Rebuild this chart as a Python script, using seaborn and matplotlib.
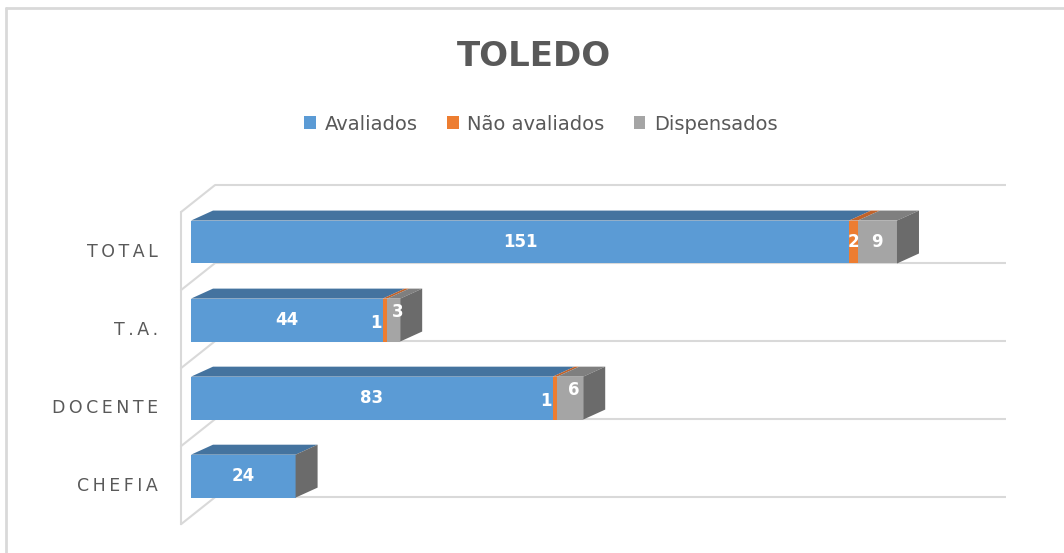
import numpy as np
import pandas as pd
import matplotlib
matplotlib.use("Agg")
import matplotlib.pyplot as plt
import seaborn as sns
from matplotlib.patches import Polygon, Patch
from matplotlib.lines import Line2D
from matplotlib.transforms import ScaledTranslation

# ---------------- data ----------------
categories = ["TOTAL", "T.A.", "DOCENTE", "CHEFIA"]
series_names = ["Avaliados", "Não avaliados", "Dispensados"]
avaliados = [151, 44, 83, 24]
nao_avaliados = [2, 1, 1, 0]
dispensados = [9, 3, 6, 0]
title_text = "TOLEDO"
x_max = 180

# ---------------- style ----------------
front_colors = ["#5B9BD5", "#ED7D31", "#A5A5A5"]
top_colors = ["#44739F", "#C0622A", "#7F7F7F"]
side_color = "#6B6B6B"
grid_color = "#D9D9D9"
text_color = "#595959"

sns.set_theme(style="white")
plt.rcParams["font.family"] = ["DejaVu Sans"]

W, H = 1064, 553
fig = plt.figure(figsize=(W / 100, H / 100), dpi=100)
ax_left_px, ax_right_px = 191, 1019
ax_top_px, ax_bot_px = 170, 530
ax = fig.add_axes([ax_left_px / W, 1 - ax_bot_px / H,
                   (ax_right_px - ax_left_px) / W, (ax_bot_px - ax_top_px) / H])

df = pd.DataFrame({"cat": categories, "a": avaliados, "n": nao_avaliados, "d": dispensados})
df["c1"] = df["a"]
df["c2"] = df["a"] + df["n"]
df["c3"] = df["a"] + df["n"] + df["d"]

bar_w = 0.55
for col, c in zip(["c3", "c2", "c1"], front_colors[::-1]):
    sns.barplot(data=df, y="cat", x=col, order=categories, color=c, saturation=1,
                width=bar_w, linewidth=0, ax=ax, zorder=3, orient="h")

xlim = (0, 190)
ylim = (3.69, -0.923)
ax.set_xlim(*xlim)
ax.set_ylim(*ylim)

px_x = (ax_right_px - ax_left_px) / (xlim[1] - xlim[0])
px_y = (ax_bot_px - ax_top_px) / (ylim[0] - ylim[1])

# bar depth
ddx = 22 / px_x
ddy = 10 / px_y

# wall / floor gridlines
wall_back_x = 24 / px_x
wall_front_x = -10 / px_x
wall_dy = 27 / px_y
back_y = np.arange(len(categories) + 1) - 0.73
grid_end = wall_back_x + x_max + 1.5
lw_g = 1.5
for yb in back_y:
    ax.plot([wall_back_x, grid_end], [yb, yb], color=grid_color, lw=lw_g, zorder=1,
            clip_on=False, solid_capstyle="butt")
    ax.plot([wall_front_x, wall_back_x], [yb + wall_dy, yb], color=grid_color, lw=lw_g,
            zorder=1, clip_on=False)
ax.plot([wall_front_x, wall_front_x], [back_y[0] + wall_dy, back_y[-1] + wall_dy],
        color=grid_color, lw=lw_g, zorder=1, clip_on=False)

# 3D faces
for i, cat in enumerate(categories):
    vals = [avaliados[i], nao_avaliados[i], dispensados[i]]
    left = 0
    yt = i - bar_w / 2
    yb = i + bar_w / 2
    for k, v in enumerate(vals):
        if v > 0:
            r = left + v
            ax.add_patch(Polygon([(left, yt), (r, yt), (r + ddx, yt - ddy), (left + ddx, yt - ddy)],
                                 closed=True, facecolor=top_colors[k], edgecolor="none",
                                 zorder=4, clip_on=False))
        left += v
    R = left
    ax.add_patch(Polygon([(R, yt), (R + ddx, yt - ddy), (R + ddx, yb - ddy), (R, yb)],
                         closed=True, facecolor=side_color, edgecolor="none",
                         zorder=4, clip_on=False))

# data labels (narrow trailing segments get nudged apart, as the reference does)
for i in range(len(categories)):
    vals = [avaliados[i], nao_avaliados[i], dispensados[i]]
    crowded = 0 < dispensados[i] * px_x < 30
    left = 0
    for k, v in enumerate(vals):
        if v > 0:
            dxp, dyp = 0, 0
            if crowded and k == 1:
                dxp, dyp = -9, -3
            elif crowded and k == 2:
                dxp, dyp = 4, 8
            t = ax.text(left + v / 2, i, str(v), ha="center", va="center", color="white",
                        fontsize=12, fontweight="bold", zorder=6)
            t.set_transform(ax.transData + ScaledTranslation(dxp / 100, dyp / 100, fig.dpi_scale_trans))
        left += v

# axes cosmetics
for s in ax.spines.values():
    s.set_visible(False)
ax.set_xticks([])
ax.set_xlabel("")
ax.set_ylabel("")
ax.set_yticks(range(len(categories)))
ax.set_yticklabels(["\u2009".join(list(c)) for c in categories])
ax.tick_params(axis="y", length=0, pad=24, labelsize=12.5, labelcolor=text_color)
off = ScaledTranslation(0, -8 / 100, fig.dpi_scale_trans)
for lab in ax.get_yticklabels():
    lab.set_transform(lab.get_transform() + off)

# title
fig.text(534 / W, 1 - 57 / H, title_text, ha="center", va="center", fontsize=24.5,
         fontweight="bold", color=text_color)

# legend
handles = [Patch(facecolor=c, edgecolor="none", label=n) for c, n in zip(front_colors, series_names)]
leg = fig.legend(handles=handles, loc="center", bbox_to_anchor=(541 / W, 1 - 124 / H), ncol=3,
                 frameon=False, fontsize=14, handlelength=0.6, handleheight=0.6,
                 handletextpad=0.45, columnspacing=1.5, labelcolor=text_color)

# outer frame (top and left visible)
fig.add_artist(Line2D([6 / W, 6 / W], [0, 1 - 8 / H], color=grid_color, lw=2, transform=fig.transFigure))
fig.add_artist(Line2D([6 / W, 1], [1 - 8 / H, 1 - 8 / H], color=grid_color, lw=2, transform=fig.transFigure))

fig.savefig("out.png", dpi=100, facecolor="white")
